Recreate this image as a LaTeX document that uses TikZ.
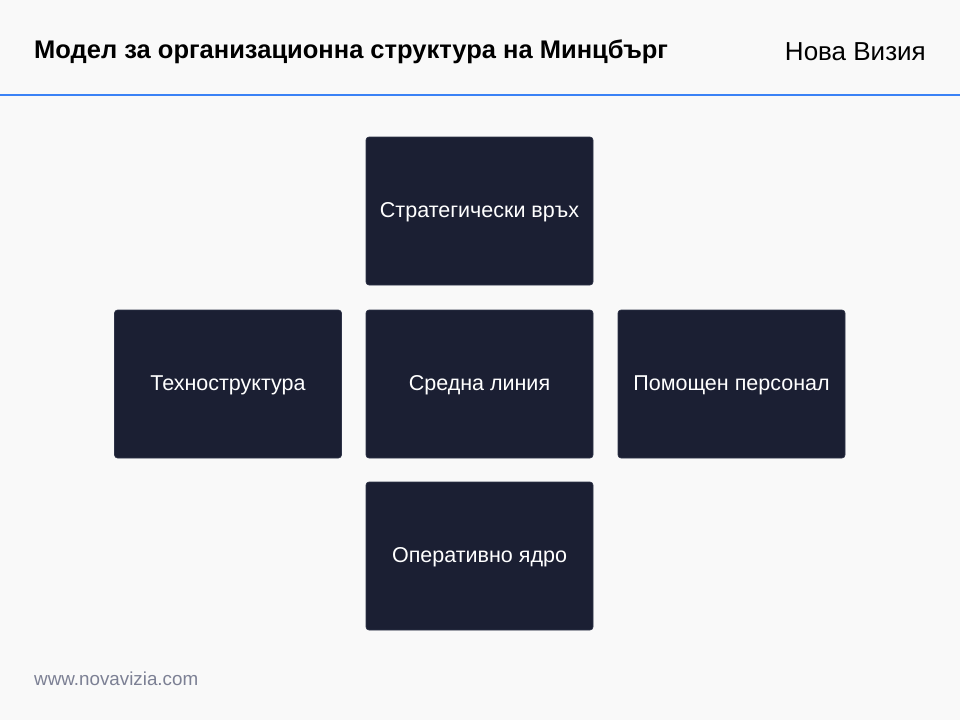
\documentclass[tikz,border=0pt]{standalone}
\usepackage{fontspec}
\setmainfont{Liberation Sans}
\definecolor{bg}{HTML}{F9F9F9}
\definecolor{boxfill}{HTML}{1B1F33}
\definecolor{boxline}{HTML}{2E3348}
\definecolor{accent}{HTML}{3B82F6}
\definecolor{foot}{HTML}{7C8094}
\begin{document}
\begin{tikzpicture}[x=1pt,y=-1pt,
  blk/.style={draw=boxline, line width=0.6pt, fill=boxfill, rounded corners=3pt, minimum width=227pt, minimum height=148pt, inner sep=0pt, text=white, text height=15.5pt, text depth=2pt, font=\fontsize{21.5}{24}\selectfont},
  ttl/.style={anchor=west, inner sep=0pt, font=\fontsize{25.5}{28}\selectfont\bfseries, text=black},
  brand/.style={anchor=east, inner sep=0pt, font=\fontsize{26}{28}\selectfont, text=black},
  url/.style={anchor=west, inner sep=0pt, font=\fontsize{18.8}{21}\selectfont, text=foot}]
\fill[bg] (0,0) rectangle (960,720);
\useasboundingbox (0,0) rectangle (960,720);
\draw[accent, line width=2pt] (0,95) -- (960,95);
\node[ttl] (title) at (34,52) {Модел за организационна структура на Минцбърг};
\node[brand] (brandname) at (926,52) {Нова Визия};
\node[blk] (apex) at (479.5,211) {Стратегически връх};
\node[blk] (techno) at (228,384) {Техноструктура};
\node[blk] (middle) at (479.5,384) {Средна линия};
\node[blk] (support) at (731.5,384) {Помощен персонал};
\node[blk] (core) at (479.5,556) {Оперативно ядро};
\node[url] (site) at (34,679) {www.novavizia.com};
\end{tikzpicture}
\end{document}
